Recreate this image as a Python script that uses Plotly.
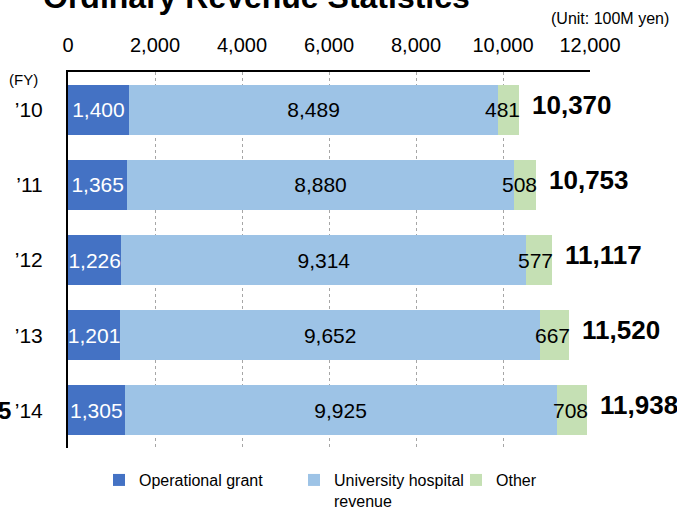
import plotly.graph_objects as go

years = ["’10", "’11", "’12", "’13", "’14"]
grant = [1400, 1365, 1226, 1201, 1305]
hospital = [8489, 8880, 9314, 9652, 9925]
other = [481, 508, 577, 667, 708]
totals = [10370, 10753, 11117, 11520, 11938]
x_ticks = [0, 2000, 4000, 6000, 8000, 10000, 12000]

ypos = list(range(len(years)))
num_font = "Liberation Sans, Arial, sans-serif"

fig = go.Figure()
fig.add_trace(go.Bar(
    y=ypos, x=grant, orientation="h", name="Operational grant", legend="legend",
    marker=dict(color="#4472C4", line=dict(width=0)),
    text=[f"{v:,}" for v in grant], textposition="inside",
    insidetextanchor="middle", textfont=dict(color="white", size=21, family=num_font),
))
fig.add_trace(go.Bar(
    y=ypos, x=hospital, orientation="h", name="University hospital<br>revenue",
    legend="legend2",
    marker=dict(color="#9DC3E6", line=dict(width=0)),
    text=[f"{v:,}" for v in hospital], textposition="inside",
    insidetextanchor="middle", textfont=dict(color="black", size=21, family=num_font),
))
fig.add_trace(go.Bar(
    y=ypos, x=other, orientation="h", name="Other", legend="legend3",
    marker=dict(color="#C5E0B4", line=dict(width=0)),
))

annotations = []
for i in ypos:
    # "Other" value label, spilling left out of the thin segment
    annotations.append(dict(
        x=totals[i], y=i, xref="x", yref="y",
        text=f"{other[i]:,}", showarrow=False, xanchor="right", xshift=3,
        font=dict(size=21, color="black", family=num_font),
    ))
    # total label
    annotations.append(dict(
        x=totals[i], y=i, xref="x", yref="y", text=f"<b>{totals[i]:,}</b>",
        showarrow=False, xanchor="left", xshift=11, yshift=5,
        font=dict(size=26, color="black", family=num_font),
    ))

annotations += [
    dict(x=0.362, y=1.199, xref="paper", yref="paper", text="<b>Ordinary Revenue Statistics</b>",
         showarrow=False, xanchor="center", yanchor="middle",
         font=dict(size=32, color="black", family=num_font)),
    dict(x=1.155, y=1.143, xref="paper", yref="paper", text="(Unit: 100M yen)",
         showarrow=False, xanchor="right", yanchor="middle",
         font=dict(size=16, color="black", family=num_font)),
    dict(x=-0.0862, y=0.981, xref="paper", yref="paper", text="(FY)",
         showarrow=False, xanchor="center", yanchor="middle",
         font=dict(size=15, color="black", family=num_font)),
    dict(x=-0.1303, y=4, xref="paper", yref="y", text="<b>5</b>",
         showarrow=False, xanchor="left", yanchor="middle", xshift=-4,
         font=dict(size=24, color="black", family=num_font)),
]

leg_font = dict(size=16, color="black", family=num_font)
leg_y = -0.040
leg_common = dict(y=leg_y, xanchor="left", yanchor="top", font=leg_font, itemwidth=30,
                  bgcolor="rgba(0,0,0,0)", valign="top")

fig.update_layout(
    width=677, height=508,
    margin=dict(l=68, r=87, t=72, b=60, autoexpand=False),
    barmode="stack", bargap=0.333,
    plot_bgcolor="white", paper_bgcolor="white",
    showlegend=True,
    legend=dict(x=0.0594, **leg_common),
    legend2=dict(x=0.433, **leg_common),
    legend3=dict(x=0.7433, **leg_common),
    uniformtext=dict(minsize=21, mode="show"),
    annotations=annotations,
    xaxis=dict(side="top", range=[0, 12000], tickvals=x_ticks,
               ticktext=[f"{v:,}" for v in x_ticks],
               showline=True, linecolor="black", linewidth=1.5,
               showgrid=True, gridcolor="#A6A6A6", griddash="dot", gridwidth=1,
               zeroline=False, ticks="", ticklabelstandoff=10,
               tickfont=dict(size=20, color="black", family=num_font)),
    yaxis=dict(range=[4.5, -0.5], tickvals=ypos, ticktext=years,
               showline=True, linecolor="black", linewidth=2,
               showgrid=False, zeroline=False, ticks="", ticklabelstandoff=19,
               tickfont=dict(size=21, color="black", family=num_font)),
)

fig.write_html("out.html", config={"displayModeBar": False},
               post_script="document.body.style.margin='0';")
